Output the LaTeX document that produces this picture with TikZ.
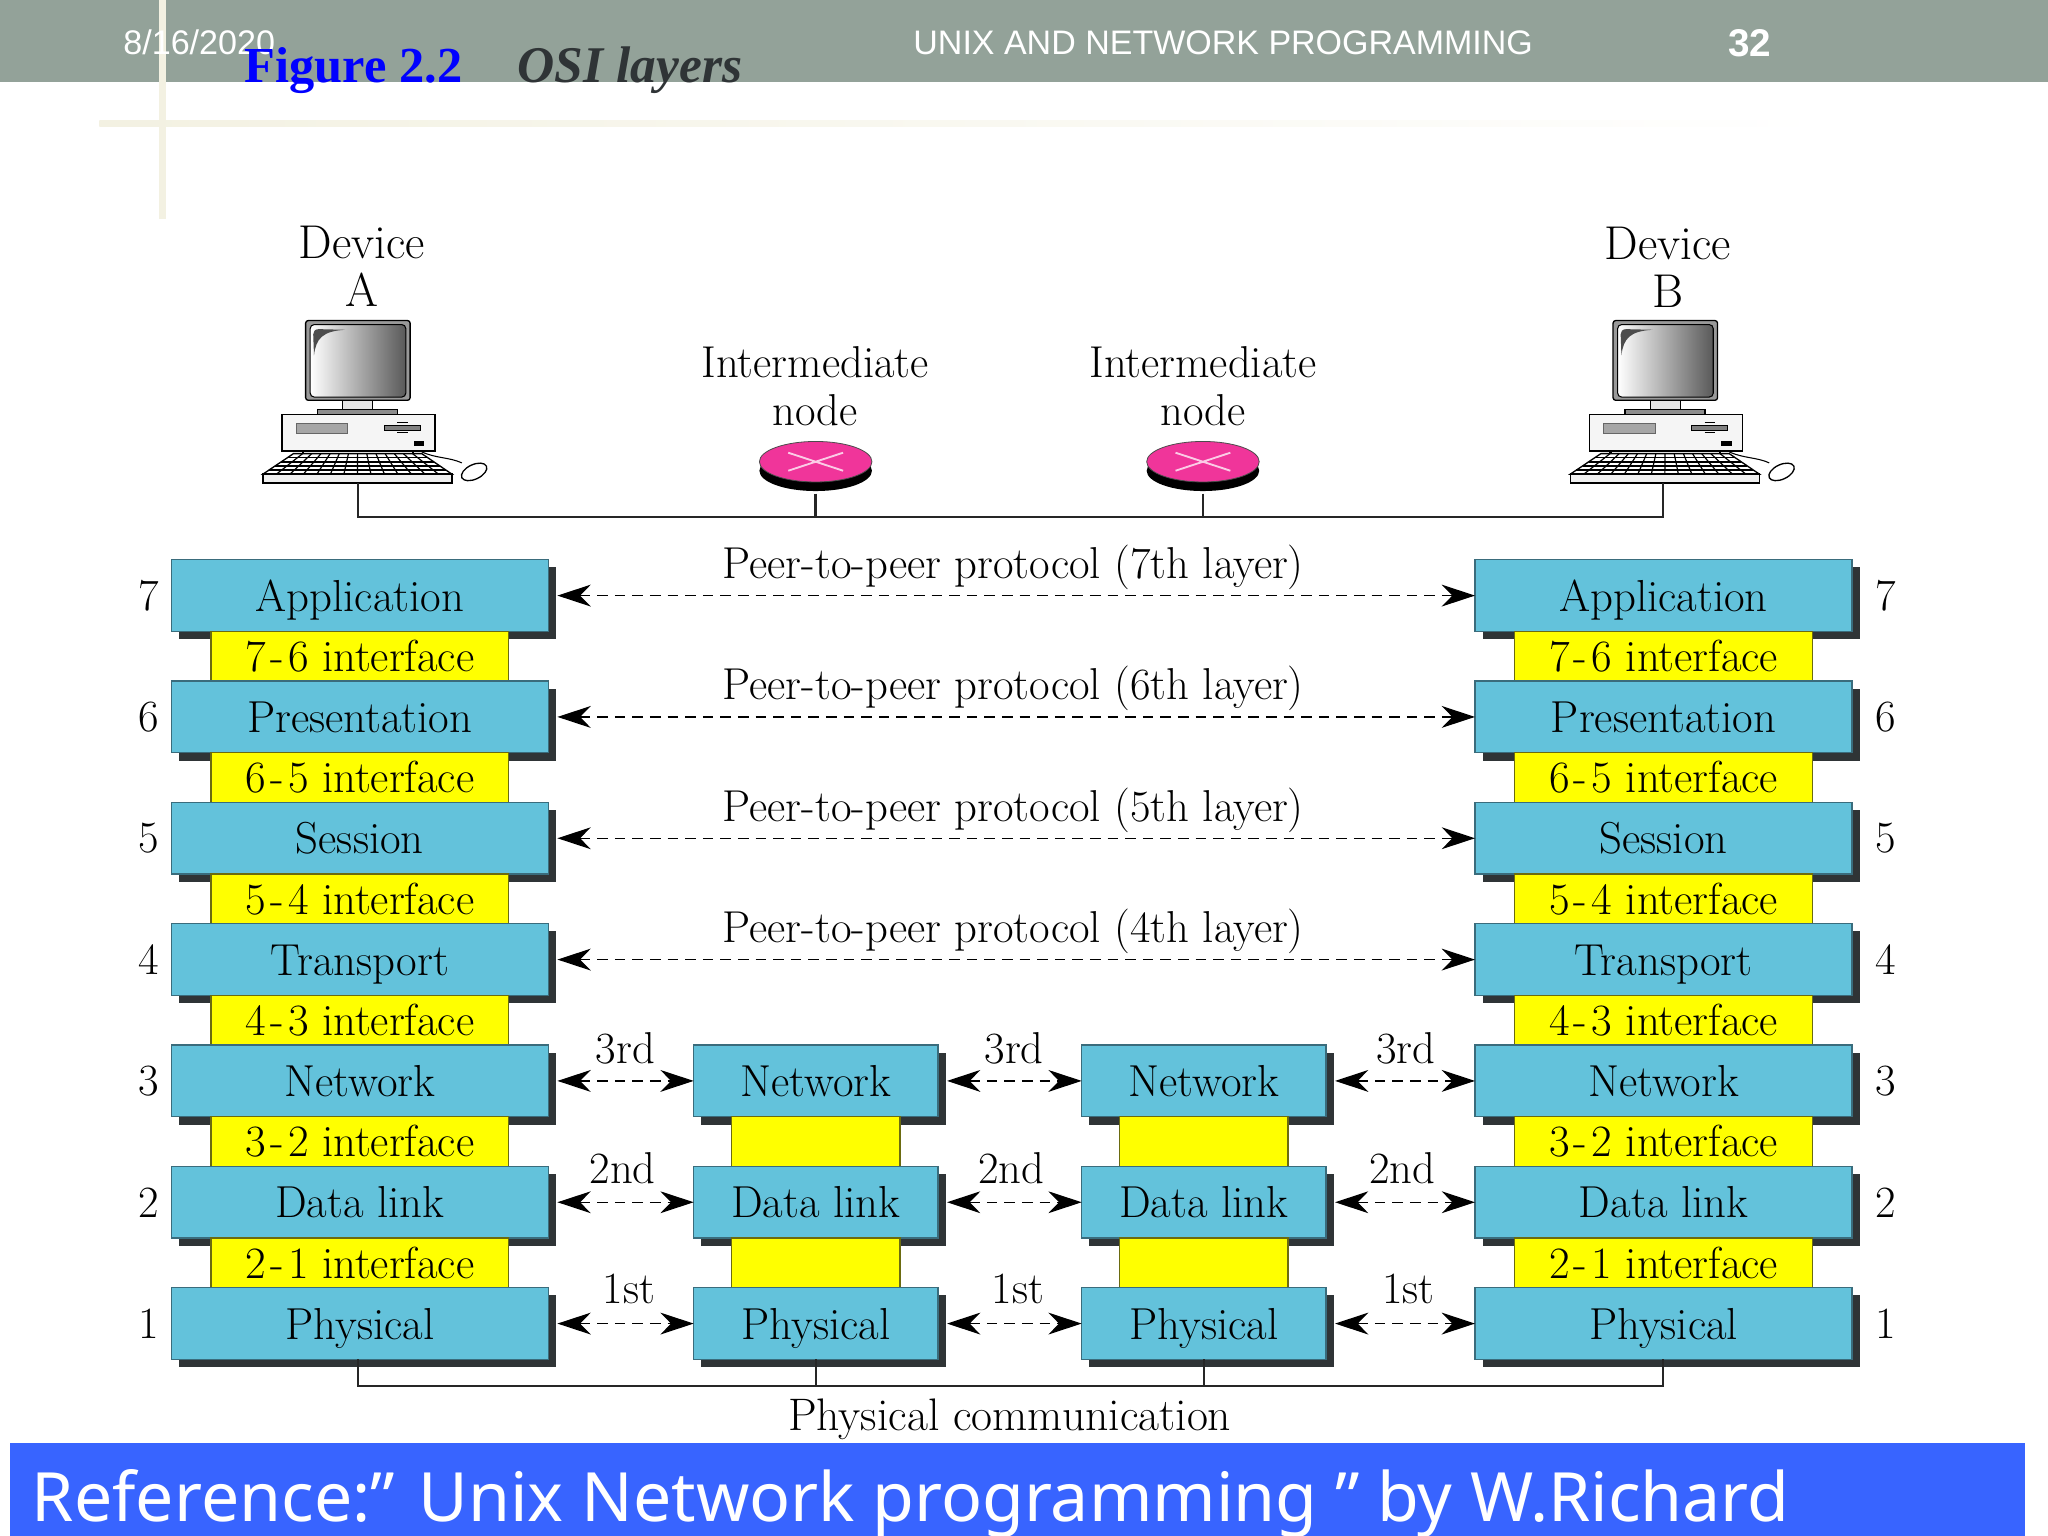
\documentclass[tikz,border=0pt]{standalone}
\usepackage{fontspec}
\usetikzlibrary{arrows.meta, positioning, shadows, shapes.geometric}

\newfontfamily\headfont{Liberation Sans}
\newfontfamily\titlefont{Liberation Serif}
\newfontfamily\reffont{Noto Sans}
\newcommand{\labelsize}{\fontsize{16.75}{18}\selectfont}
\newcommand{\layersize}{\fontsize{16.8}{18}\selectfont}
\newcommand{\ifc}[2]{#1\kern1.6pt-\kern1.6pt#2 interface}

\definecolor{bandgrey}{HTML}{93A299}
\definecolor{creamline}{HTML}{F3F1E2}
\definecolor{layerblue}{HTML}{63C2DB}
\definecolor{layeredge}{HTML}{3A6C7C}
\definecolor{shadowgrey}{HTML}{2F3436}
\definecolor{ifaceyellow}{HTML}{FFFF00}
\definecolor{ifaceedge}{HTML}{6B6B10}
\definecolor{routerpink}{HTML}{F0359A}
\definecolor{barblue}{HTML}{3864FF}

\tikzset{
	layerbox/.style={draw=layeredge, fill=layerblue, line width=.5pt, outer sep=0pt, inner sep=0pt, minimum height=26.9pt, font=\layersize, text height=11.8pt, text depth=0pt,
		drop shadow={shadow xshift=2.9pt, shadow yshift=-2.9pt, fill=shadowgrey, opacity=1}},
	endlayer/.style={layerbox, minimum width=141.4pt},
	midlayer/.style={layerbox, minimum width=91.6pt},
	ifacebox/.style={draw=ifaceedge, fill=ifaceyellow, line width=.5pt, outer sep=0pt, inner sep=0pt, minimum height=18.6pt, font=\layersize, text height=11.4pt, text depth=0pt},
	endiface/.style={ifacebox, minimum width=111.7pt},
	midiface/.style={ifacebox, minimum width=63.2pt},
	num/.style={inner sep=0pt, font=\labelsize},
	caption/.style={inner sep=0pt, font=\labelsize, align=center},
	devcaption/.style={caption, font=\fontsize{17.8}{18}\selectfont},
	peer/.style={<->, >={Stealth[length=12.5pt, width=8.2pt, inset=4pt]}, line width=.45pt, dash pattern=on 4pt off 2.6pt, shorten <=3.4pt},
	wire/.style={line width=.9pt, draw=black!85},
	router/.style={ellipse, fill=routerpink, draw=black!70, line width=.3pt, inner sep=0pt, outer sep=0pt, minimum width=42.2pt, minimum height=15.2pt,
		drop shadow={shadow xshift=0pt, shadow yshift=-3.4pt, fill=black, opacity=1}},
	computer/.pic={
		% monitor
		\draw [line width=.5pt, fill=black!40, rounded corners=1pt] (-40,-150.6) rectangle (40,-89.5);
		\draw [line width=.4pt, left color=white, right color=black!65, rounded corners=1.5pt] (-36.5,-147.5) rectangle (36.7,-92);
		\fill [black!70] (-33.6,-124) .. controls (-32,-137) and (-27,-142.5) .. (-9.7,-143.5) -- (-30,-144) .. controls (-33,-144) and (-34.2,-142) .. (-34.2,-140) -- cycle;
		\draw [line width=.4pt, fill=black!10] (-11.7,-89.5) rectangle (11.5,-82.4);
		\draw [line width=.5pt, fill=black!45] (-30.9,-82.4) rectangle (30.4,-78.6);
		% case
		\draw [line width=.6pt, fill=black!4] (-58.2,-78.6) rectangle (59.2,-50.5);
		\draw [line width=.3pt, draw=black!60, fill=black!35] (-47.2,-71.5) rectangle (-7.7,-64);
		\draw [line width=.3pt, fill=black!50] (20.2,-70.4) rectangle (47.7,-66.6);
		\draw [line width=.4pt] (30,-72.6) -- (38,-72.6) (30,-64.6) -- (38,-64.6);
		\fill [black] (42.6,-58.2) rectangle (51,-54.9);
		% keyboard
		\draw [line width=.8pt] (-42,-50.5) -- (-42,-48) (42,-50.5) -- (42,-48);
		\draw [line width=.5pt, fill=white] (-49.3,-48.7) -- (48.9,-48.7) -- (72,-33) -- (-72.7,-33) -- cycle;
		\foreach \r in {.2,.4,.6,.8}
			\draw [line width=.55pt] ({-49.3-23.4*\r},{-48.7+15.7*\r}) -- ({48.9+23.1*\r},{-48.7+15.7*\r});
		\foreach \c in {1,...,13}
			\draw [line width=.45pt] ({-49.3+98.2*\c/14},-48.7) -- ({-72.7+144.7*\c/14},-33);
		\draw [line width=.6pt, fill=black!6] (-72.7,-33) rectangle (72,-26.3);
		% mouse
		\draw [line width=.4pt] (49,-50) .. controls (60,-45) and (70,-46) .. (79.6,-41.6);
		\draw [line width=.5pt, fill=white, rotate around={25:(89,-34.7)}] (89,-34.7) ellipse (10.4 and 5.6);
		\coordinate (-port) at (0,-26.3);
	}
}

\begin{document}
\begin{tikzpicture}[x=.4898pt, y=-.4898pt]

	\useasboundingbox (0,0) rectangle (1568,1176);
	\fill [white] (0,0) rectangle (1568,1176);

	% slide frame
	\fill [bandgrey] (0,0) rectangle (1568,63);
	\shade [left color=creamline, right color=white] (76,92) rectangle (1400,97);
	\fill [creamline] (122,0) rectangle (127,168);
	\node [inner sep=0pt, anchor=base west, text=white, font=\headfont\fontsize{12.8}{14}\selectfont] (date) at (94,42) {8/16/2020};
	\node [inner sep=0pt, anchor=base, text=white, font=\headfont\fontsize{12.75}{14}\selectfont] (course) at (936.5,42) {UNIX AND NETWORK PROGRAMMING};
	\node [inner sep=0pt, anchor=base, text=white, font=\headfont\bfseries\fontsize{14.5}{16}\selectfont] (page) at (1339.5,43) {32};
	\node [inner sep=0pt, anchor=base west, text=blue, font=\titlefont\bfseries\fontsize{18.9}{20}\selectfont] (fig) at (187,63.5) {Figure 2.2};
	\node [inner sep=0pt, anchor=base west, text=shadowgrey, font=\titlefont\bfseries\itshape\fontsize{19.3}{22}\selectfont] (figname) at (396,63.5) {OSI layers};

	% devices and intermediate nodes
	\node [devcaption] (labA) at (277,203.5) {Device\\A};
	\node [devcaption] (labB) at (1277,204.5) {Device\\B};
	\node [caption] (labR) at (624,296) {Intermediate\\node};
	\node [caption] (labS) at (921,296) {Intermediate\\node};

	\pic (deva) at (274,396) {computer};
	\pic (devb) at (1275,396) {computer};
	\node [router] (r1) at (624.5,353.5) {};
	\node [router] (r2) at (921,353.5) {};
	\draw [line width=.7pt, draw=routerpink!25] (603.5,346.6) -- (645.5,360.4) (603.5,360.4) -- (645.5,346.6);
	\draw [line width=.7pt, draw=routerpink!25] (900,346.6) -- (942,360.4) (900,360.4) -- (942,346.6);

	\coordinate (busa) at (274,396);
	\coordinate (busb) at (1273,396);
	\draw [wire] (deva-port) -- (busa) -- (busb) -- (busb |- devb-port);
	\draw [wire, shorten <=4.4pt] (r1.south) -- (r1 |- busa);
	\draw [wire, shorten <=4.4pt] (r2.south) -- (r2 |- busa);

	% stack of device A
	\node [endlayer] (a7) at (275.5,456) {Application};
	\node [endiface, below=0pt of a7] (a76) {\ifc{7}{6}};
	\node [endlayer, below=0pt of a76] (a6) {Presentation};
	\node [endiface, below=0pt of a6] (a65) {\ifc{6}{5}};
	\node [endlayer, below=0pt of a65] (a5) {Session};
	\node [endiface, below=0pt of a5] (a54) {\ifc{5}{4}};
	\node [endlayer, below=0pt of a54] (a4) {Transport};
	\node [endiface, below=0pt of a4] (a43) {\ifc{4}{3}};
	\node [endlayer, below=0pt of a43] (a3) {Network};
	\node [endiface, below=0pt of a3] (a32) {\ifc{3}{2}};
	\node [endlayer, below=0pt of a32] (a2) {Data link};
	\node [endiface, below=0pt of a2] (a21) {\ifc{2}{1}};
	\node [endlayer, below=0pt of a21] (a1) {Physical};

	% stack of device B
	\node [endlayer, right=347.5pt of a7] (b7) {Application};
	\node [endiface, below=0pt of b7] (b76) {\ifc{7}{6}};
	\node [endlayer, below=0pt of b76] (b6) {Presentation};
	\node [endiface, below=0pt of b6] (b65) {\ifc{6}{5}};
	\node [endlayer, below=0pt of b65] (b5) {Session};
	\node [endiface, below=0pt of b5] (b54) {\ifc{5}{4}};
	\node [endlayer, below=0pt of b54] (b4) {Transport};
	\node [endiface, below=0pt of b4] (b43) {\ifc{4}{3}};
	\node [endlayer, below=0pt of b43] (b3) {Network};
	\node [endiface, below=0pt of b3] (b32) {\ifc{3}{2}};
	\node [endlayer, below=0pt of b32] (b2) {Data link};
	\node [endiface, below=0pt of b2] (b21) {\ifc{2}{1}};
	\node [endlayer, below=0pt of b21] (b1) {Physical};

	% stacks of the intermediate nodes
	\node [midlayer, right=54.5pt of a3] (m3) {Network};
	\node [midiface, below=0pt of m3] (m32) {};
	\node [midlayer, below=0pt of m32] (m2) {Data link};
	\node [midiface, below=0pt of m2] (m21) {};
	\node [midlayer, below=0pt of m21] (m1) {Physical};

	\node [midlayer, right=53.9pt of m3] (n3) {Network};
	\node [midiface, below=0pt of n3] (n32) {};
	\node [midlayer, below=0pt of n32] (n2) {Data link};
	\node [midiface, below=0pt of n2] (n21) {};
	\node [midlayer, below=0pt of n21] (n1) {Physical};

	% layer numbers
	\node [num, left=4.6pt of a7] (na7) {7};
	\node [num, left=4.6pt of a6] (na6) {6};
	\node [num, left=4.6pt of a5] (na5) {5};
	\node [num, left=4.6pt of a4] (na4) {4};
	\node [num, left=4.6pt of a3] (na3) {3};
	\node [num, left=4.6pt of a2] (na2) {2};
	\node [num, left=4.6pt of a1] (na1) {1};
	\node [num, right=8.6pt of b7] (nb7) {7};
	\node [num, right=8.6pt of b6] (nb6) {6};
	\node [num, right=8.6pt of b5] (nb5) {5};
	\node [num, right=8.6pt of b4] (nb4) {4};
	\node [num, right=8.6pt of b3] (nb3) {3};
	\node [num, right=8.6pt of b2] (nb2) {2};
	\node [num, right=8.6pt of b1] (nb1) {1};

	% peer protocols
	\path	(a7) edge [peer] node [caption, above=2pt, xshift=.6pt] {Peer-to-peer protocol (7th layer)} (b7)
			(a6) edge [peer] node [caption, above=2pt, xshift=.6pt] {Peer-to-peer protocol (6th layer)} (b6)
			(a5) edge [peer] node [caption, above=2pt, xshift=.6pt] {Peer-to-peer protocol (5th layer)} (b5)
			(a4) edge [peer] node [caption, above=2pt, xshift=.6pt] {Peer-to-peer protocol (4th layer)} (b4)
			(a3) edge [peer] node [caption, above=6pt, xshift=1.6pt] {3rd} (m3)
			(m3) edge [peer] node [caption, above=6pt, xshift=1.6pt] {3rd} (n3)
			(n3) edge [peer] node [caption, above=6pt, xshift=2pt] {3rd} (b3)
			(a2) edge [peer] node [caption, above=6.5pt, xshift=.6pt] {2nd} (m2)
			(m2) edge [peer] node [caption, above=6.5pt, xshift=.6pt] {2nd} (n2)
			(n2) edge [peer] node [caption, above=6.5pt, xshift=.6pt] {2nd} (b2)
			(a1) edge [peer] node [caption, above=7pt, xshift=3pt] {1st} (m1)
			(m1) edge [peer] node [caption, above=7pt, xshift=3pt] {1st} (n1)
			(n1) edge [peer] node [caption, above=7pt, xshift=3pt] {1st} (b1);

	% physical link
	\coordinate (phya) at (274,1061);
	\coordinate (phyb) at (1273,1061);
	\draw [wire] (phya |- a1.south) -- (phya) -- (phyb) -- (phyb |- b1.south);
	\draw [wire, line width=.6pt] (m1.south) -- (m1 |- phya);
	\draw [wire, line width=.6pt] (n1.south) -- (n1 |- phya);
	\node [caption, font=\fontsize{17.1}{18}\selectfont] (phylab) at (773,1087) {Physical communication};

	% reference bar
	\fill [barblue] (8,1105) rectangle (1550,1176);
	\node [inner sep=0pt, anchor=base west, text=white, font=\reffont\fontsize{25.5}{30}\selectfont] (refnote) at (24,1165) {Reference:” Unix Network programming ” by W.Richard};

\end{tikzpicture}
\end{document}
